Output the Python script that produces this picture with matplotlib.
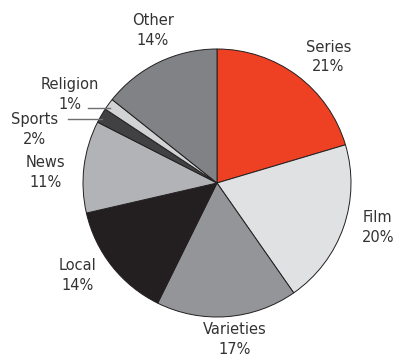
import matplotlib
matplotlib.use("Agg")
import matplotlib.pyplot as plt

# slices, clockwise from 12 o'clock
categories = ["Series", "Film", "Varieties", "Local", "News", "Sports", "Religion", "Other"]
shares = [20.4, 19.9, 17.0, 14.1, 11.1, 1.8, 1.4, 14.3]   # measured slice sizes
pct_labels = ["21%", "20%", "17%", "14%", "11%", "2%", "1%", "14%"]
colors = ["#ee4023", "#e0e1e3", "#939598", "#231f20", "#b1b3b6", "#414042", "#d1d3d4", "#808285"]

# label centres (data units, pie radius = 1)
label_pos = [(0.83, 0.94), (1.20, -0.33), (0.13, -1.165), (-1.04, -0.69),
             (-1.28, 0.08), (-1.36, 0.40), (-1.10, 0.66), (-0.48, 1.14)]

fig = plt.figure(figsize=(3.95, 3.56), dpi=100)
ax = fig.add_axes([0, 0, 1, 1])

ax.pie(shares, colors=colors, startangle=90, counterclock=False,
       wedgeprops=dict(edgecolor="#231f20", linewidth=0.7))

for name, pct, (x, y) in zip(categories, pct_labels, label_pos):
    ax.text(x, y, f"{name}\n{pct}", ha="center", va="center", fontsize=10.5,
            color="#333333", linespacing=1.4, family="DejaVu Sans")

# leader lines for the two thin slices
ax.plot([-0.963, -0.80], [0.56, 0.56], color="#6d6e71", lw=1)
ax.plot([-1.112, -0.86], [0.478, 0.478], color="#6d6e71", lw=1)

ax.set_xlim(-217 / 134, (395 - 217) / 134)
ax.set_ylim((183 - 356) / 134, 183 / 134)
ax.set_aspect("auto")
ax.axis("off")

fig.savefig("out.png", dpi=100)
